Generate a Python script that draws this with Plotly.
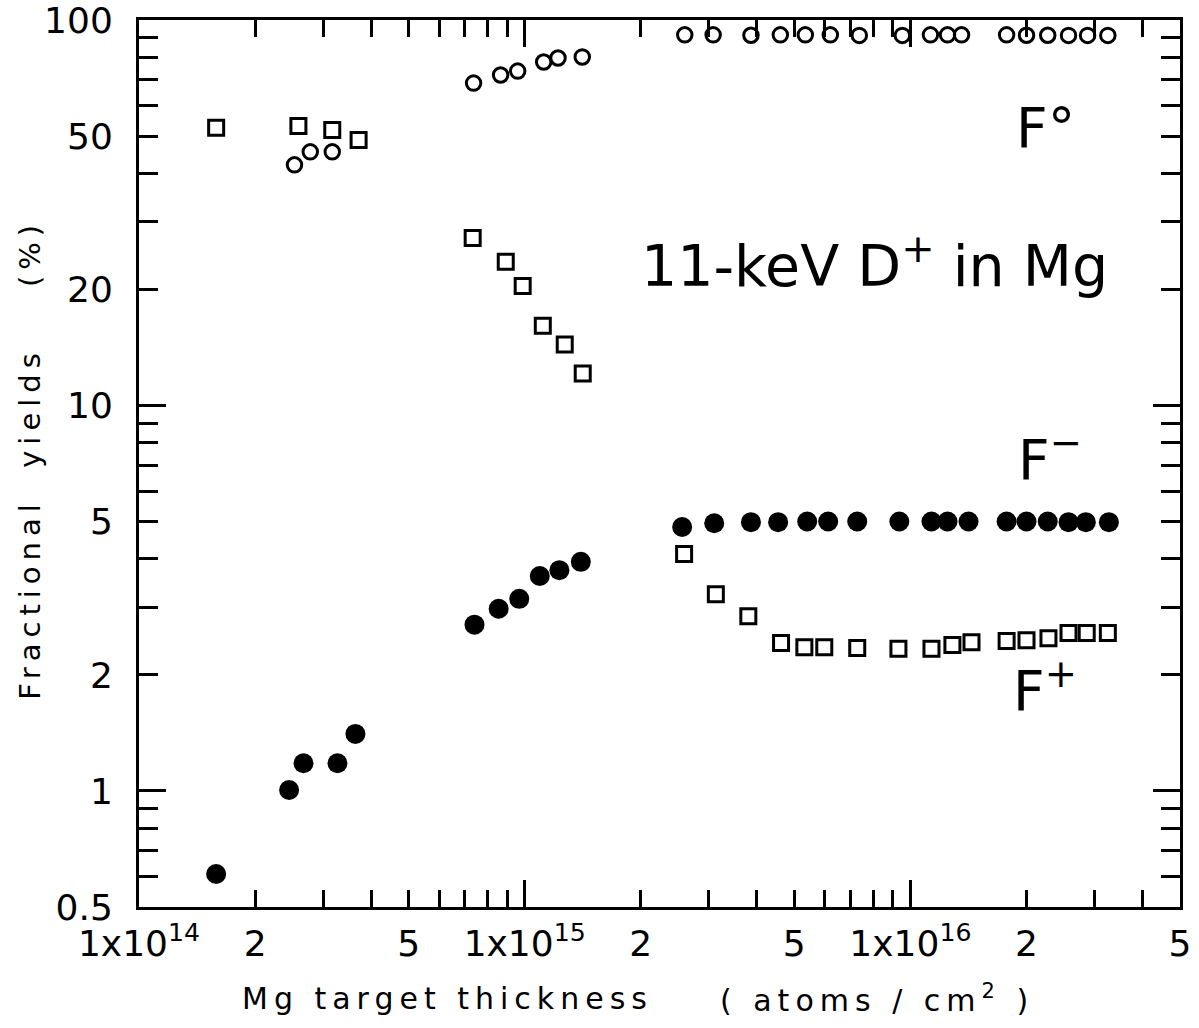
import math
import plotly.graph_objects as go

# ---------------- data ----------------
# F0 (open circles)
f0_x = [2.53e14, 2.78e14, 3.17e14,
        7.37e14, 8.66e14, 9.59e14, 1.12e15, 1.22e15, 1.41e15,
        2.60e15, 3.08e15, 3.86e15, 4.60e15, 5.34e15, 6.20e15, 7.37e15, 9.53e15,
        1.127e16, 1.248e16, 1.357e16, 1.776e16, 2.00e16, 2.27e16, 2.57e16, 2.88e16, 3.25e16]
f0_y = [42.1, 45.5, 45.5,
        68.6, 72.0, 73.7, 77.8, 79.7, 80.2,
        91.5, 91.5, 91.3, 91.5, 91.5, 91.5, 91.2, 91.2,
        91.5, 91.5, 91.5, 91.5, 91.3, 91.3, 91.2, 91.2, 91.2]

# F+ (open squares)
fp_x = [1.585e14, 2.59e14, 3.17e14, 3.71e14,
        7.33e14, 8.93e14, 9.88e14, 1.114e15, 1.27e15, 1.414e15,
        2.59e15, 3.13e15, 3.80e15, 4.62e15, 5.31e15, 5.98e15, 7.28e15, 9.31e15,
        1.134e16, 1.285e16, 1.44e16, 1.776e16, 2.00e16, 2.28e16, 2.57e16, 2.865e16, 3.25e16]
fp_y = [52.5, 53.1, 51.8, 48.8,
        27.2, 23.6, 20.4, 16.1, 14.4, 12.1,
        4.12, 3.24, 2.84, 2.42, 2.36, 2.36, 2.35, 2.34,
        2.34, 2.39, 2.43, 2.45, 2.46, 2.49, 2.57, 2.57, 2.57]

# F- (filled circles)
fm_x = [1.585e14, 2.45e14, 2.67e14, 3.27e14, 3.64e14,
        7.41e14, 8.56e14, 9.68e14, 1.094e15, 1.23e15, 1.398e15,
        2.56e15, 3.10e15, 3.86e15, 4.54e15, 5.40e15, 6.12e15, 7.28e15, 9.36e15,
        1.134e16, 1.248e16, 1.415e16, 1.776e16, 2.00e16, 2.27e16, 2.57e16, 2.85e16, 3.27e16]
fm_y = [0.609, 1.006, 1.18, 1.18, 1.406,
        2.70, 2.97, 3.15, 3.61, 3.74, 3.93,
        4.84, 4.95, 4.98, 4.98, 5.0, 5.0, 5.0, 5.0,
        5.0, 5.0, 5.0, 5.0, 5.0, 5.0, 4.98, 4.98, 4.98]

# axis ticks
x_label_vals = [1e14, 2e14, 5e14, 1e15, 2e15, 5e15, 1e16, 2e16, 5e16]
x_label_text = ["1x10<sup>14</sup>", "2", "5", "1x10<sup>15</sup>", "2", "5",
                "1x10<sup>16</sup>", "2", "5"]
x_minor_vals = [3e14, 4e14, 6e14, 7e14, 8e14, 9e14,
                3e15, 4e15, 6e15, 7e15, 8e15, 9e15,
                3e16, 4e16]
x_major_vals = [1e15, 1e16]
x_limits = [1e14, 5e16]

y_label_vals = [0.5, 1, 2, 5, 10, 20, 50, 100]
y_label_text = ["0.5", "1", "2", "5", "10", "20", "50", "100"]
y_minor_vals = [0.6, 0.7, 0.8, 0.9, 3, 4, 6, 7, 8, 9, 30, 40, 60, 70, 80, 90]
y_major_vals = [1, 10]
y_limits = [0.5, 100]

FONT = "DejaVu Sans"
EPS = 1e-7
xr = [math.log10(x_limits[0]) - EPS, math.log10(x_limits[1]) + EPS]
yr = [math.log10(y_limits[0]) - EPS, math.log10(y_limits[1]) + EPS]

fig = go.Figure()
fig.add_trace(go.Scatter(
    x=fp_x, y=fp_y, mode="markers", name="F+",
    marker=dict(symbol="square-open", size=15, color="black",
                line=dict(width=3, color="black"))))
fig.add_trace(go.Scatter(
    x=f0_x, y=f0_y, mode="markers", name="F0",
    marker=dict(symbol="circle-open", size=14.5, color="black",
                line=dict(width=3, color="black"))))
fig.add_trace(go.Scatter(
    x=fm_x, y=fm_y, mode="markers", name="F-",
    marker=dict(symbol="circle", size=20, color="black",
                line=dict(width=0))))
# empty trace to carry the overlay axes used for the long decade ticks
fig.add_trace(go.Scatter(x=[], y=[], xaxis="x2", yaxis="y2",
                         showlegend=False, hoverinfo="skip"))

tick_common = dict(ticks="inside", tickwidth=2.5, tickcolor="black",
                   showgrid=False, zeroline=False, automargin=False)

fig.update_layout(
    width=1199, height=1028,
    margin=dict(l=139, r=19, t=20, b=121, autoexpand=False),
    paper_bgcolor="white", plot_bgcolor="white",
    showlegend=False, hovermode=False,
    font=dict(family=FONT, color="black"),
    xaxis=dict(type="log", range=xr, tickvals=x_label_vals, ticktext=x_label_text,
               ticklen=17, showline=True, linewidth=3, linecolor="black",
               mirror="ticks", tickfont=dict(size=36, family=FONT),
               ticklabelstandoff=3, ticklabeloverflow="allow",
               minor=dict(tickvals=x_minor_vals, ticks="inside", ticklen=17,
                          tickwidth=2.5, tickcolor="black", showgrid=False),
               **tick_common),
    yaxis=dict(type="log", range=yr, tickvals=y_label_vals, ticktext=y_label_text,
               ticklen=19, showline=True, linewidth=3, linecolor="black",
               mirror="ticks", tickfont=dict(size=36, family=FONT),
               ticklabelstandoff=16, ticklabeloverflow="allow",
               minor=dict(tickvals=y_minor_vals, ticks="inside", ticklen=19,
                          tickwidth=2.5, tickcolor="black", showgrid=False),
               **tick_common),
    xaxis2=dict(type="log", range=xr, overlaying="x", anchor="y2", side="bottom",
                tickvals=x_major_vals, ticklen=27, showticklabels=False,
                showline=False, mirror="ticks", **tick_common),
    yaxis2=dict(type="log", range=yr, overlaying="y", anchor="x2", side="left",
                tickvals=y_major_vals, ticklen=27, showticklabels=False,
                showline=False, mirror="ticks", **tick_common),
)

ann = [
    dict(text="11-keV D<sup>+</sup> in Mg", x=0.707, y=0.727, size=57),
    dict(text="F°", x=0.871, y=0.878, size=55),
    dict(text="F<sup>−</sup>", x=0.875, y=0.508, size=55),
    dict(text="F<sup>+</sup>", x=0.870, y=0.248, size=55),
]
for a in ann:
    fig.add_annotation(text=a["text"], x=a["x"], y=a["y"], xref="paper", yref="paper",
                       xanchor="center", yanchor="middle", showarrow=False,
                       font=dict(size=a["size"], family=FONT, color="black"))

# axis titles (letter-spaced like the original lettering)
fig.add_annotation(text="Mg target thickness", x=0.2964, y=-0.1037,
                   xref="paper", yref="paper", xanchor="center", yanchor="middle",
                   showarrow=False, font=dict(size=30, family=FONT, color="black"))
fig.add_annotation(text="( atoms / cm<sup>2</sup> )", x=0.7094, y=-0.1037,
                   xref="paper", yref="paper", xanchor="center", yanchor="middle",
                   showarrow=False, font=dict(size=30, family=FONT, color="black"))
fig.add_annotation(text="Fractional  yields", x=-0.1047, y=0.432, textangle=-90,
                   xref="paper", yref="paper", xanchor="center", yanchor="middle",
                   showarrow=False, font=dict(size=29, family=FONT, color="black"))
fig.add_annotation(text="(%)", x=-0.1047, y=0.7373, textangle=-90,
                   xref="paper", yref="paper", xanchor="center", yanchor="middle",
                   showarrow=False, font=dict(size=29, family=FONT, color="black"))

post = """
document.documentElement.style.margin = '0';
document.body.style.margin = '0';
var gd = document.getElementById('{plot_id}');
function spaceTitles(){
  gd.querySelectorAll('.annotation-text').forEach(function(t){
    var s = t.textContent;
    if (s.indexOf('Mg target') === 0 || s.indexOf('( atoms') === 0 ||
        s.indexOf('Fractional') === 0 || s === '(%)') {
      t.style.letterSpacing = '6px';
    }
  });
}
spaceTitles();
gd.on('plotly_afterplot', spaceTitles);
"""
fig.write_html("out.html", post_script=post, config={"displayModeBar": False})
